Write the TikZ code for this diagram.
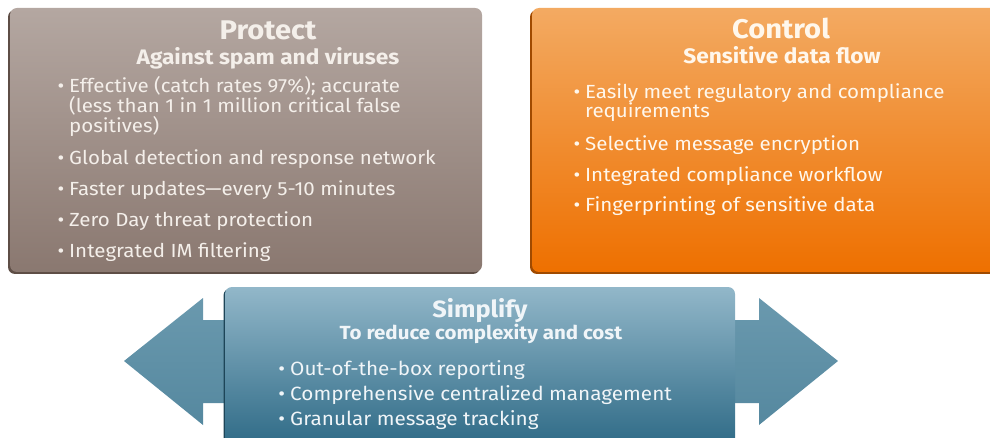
\documentclass[tikz,border=0pt]{standalone}
\usepackage{fontspec}
\setmainfont{Fira Sans}[FakeStretch=1.08]
\usetikzlibrary{shadows}
\definecolor{ptop}{HTML}{B4A7A1}
\definecolor{pbot}{HTML}{8A7870}
\definecolor{pshd}{HTML}{5E4E46}
\definecolor{ctop}{HTML}{F3AA62}
\definecolor{cbot}{HTML}{EE7000}
\definecolor{cshd}{HTML}{A04A00}
\definecolor{stop}{HTML}{92B7C9}
\definecolor{sbot}{HTML}{2E6A86}
\definecolor{sshd}{HTML}{1D4558}
\definecolor{atop}{HTML}{6A99AE}
\definecolor{abot}{HTML}{55889F}
\definecolor{ptext}{HTML}{F4EFEA}
\definecolor{ctext}{HTML}{FFF7EC}
\definecolor{stext}{HTML}{F0F5F8}
\newcommand{\bul}{\llap{\textbullet\hspace{5pt}}}
\begin{document}
\begin{tikzpicture}[x=1pt,y=-1pt,
  panel/.style={rectangle, rounded corners=7pt, inner sep=0pt},
  ttl/.style={anchor=base, inner sep=0pt, font=\fontsize{27}{29}\selectfont\bfseries},
  sub/.style={anchor=base, inner sep=0pt, font=\fontsize{21}{23}\selectfont\bfseries},
  itm/.style={anchor=base west, inner sep=0pt, font=\fontsize{19}{20}\selectfont},
  sitm/.style={anchor=base west, inner sep=0pt, font=\fontsize{19.2}{20}\selectfont}]
\useasboundingbox (0,0) rectangle (990,438);
\clip (0,0) rectangle (990,438);
% Protect panel
\node[panel, top color=ptop, bottom color=pbot,
  drop shadow={shadow xshift=-2pt, shadow yshift=-2pt, fill=pshd, opacity=1},
  minimum width=472pt, minimum height=264pt] (protect) at (246,140) {};
\node[ttl, text=ptext] (pt) at (268,40) {Protect};
\node[sub, text=ptext] (ps) at (268,65) {Against spam and viruses};
\begin{scope}[every node/.append style={itm, text=ptext}]
\node (p1a) at (69,93) {\bul Effective (catch rates 97\%); accurate};
\node (p1b) at (69,113) {(less than 1 in 1 million critical false};
\node (p1c) at (69,133) {positives)};
\node (p2) at (69,165) {\bul Global detection and response network};
\node (p3) at (69,196) {\bul Faster updates—every 5-10 minutes};
\node (p4) at (69,227) {\bul Zero Day threat protection};
\node (p5) at (69,258) {\bul Integrated IM filtering};
\end{scope}
% Control panel
\node[panel, top color=ctop, bottom color=cbot,
  drop shadow={shadow xshift=-2pt, shadow yshift=-2pt, fill=cshd, opacity=1},
  minimum width=480pt, minimum height=264pt] (control) at (772,140) {};
\node[ttl, text=ctext] (ct) at (781,39) {Control};
\node[sub, text=ctext] (cs) at (782,64) {Sensitive data flow};
\begin{scope}[every node/.append style={itm, text=ctext}]
\node (c1a) at (585,99) {\bul Easily meet regulatory and compliance};
\node (c1b) at (585,118) {requirements};
\node (c2) at (585,151) {\bul Selective message encryption};
\node (c3) at (585,182) {\bul Integrated compliance workflow};
\node (c4) at (585,212) {\bul Fingerprinting of sensitive data};
\end{scope}
% Arrows
\shade[top color=atop, bottom color=abot] (230,320) -- (203,320) -- (203,298) -- (124,361) -- (203,425) -- (203,403) -- (230,403) -- cycle;
\shade[top color=atop, bottom color=abot] (730,320) -- (759,320) -- (759,298) -- (838,361) -- (759,425) -- (759,403) -- (730,403) -- cycle;
% Simplify panel
\node[panel, top color=stop, bottom color=sbot,
  drop shadow={shadow xshift=-1.5pt, shadow yshift=-1.5pt, fill=sshd, opacity=1},
  minimum width=510pt, minimum height=160pt] (simplify) at (480,367) {};
\node[ttl, text=stext, font=\fontsize{23.5}{26}\selectfont\bfseries] (st) at (480,317) {Simplify};
\node[sub, text=stext, font=\fontsize{19}{21}\selectfont\bfseries] (ss) at (481,339) {To reduce complexity and cost};
\begin{scope}[every node/.append style={sitm, text=stext}]
\node (s1) at (290,375) {\bul Out-of-the-box reporting};
\node (s2) at (290,400) {\bul Comprehensive centralized management};
\node (s3) at (290,425) {\bul Granular message tracking};
\end{scope}
\end{tikzpicture}
\end{document}
